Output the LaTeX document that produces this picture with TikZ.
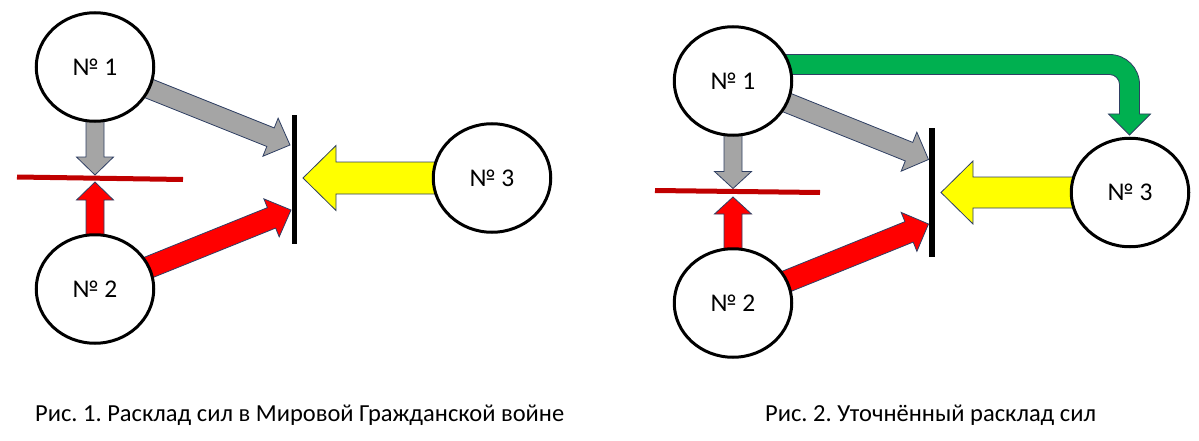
\documentclass[tikz,border=0pt]{standalone}
\usepackage{fontspec}
\setmainfont{Carlito}
\frenchspacing
\usetikzlibrary{calc,shapes.geometric,backgrounds}

\definecolor{edgeblue}{HTML}{2F3F63}
\definecolor{forcegray}{HTML}{A5A5A5}
\definecolor{forcered}{HTML}{FF0000}
\definecolor{forceyellow}{HTML}{FFFF00}
\definecolor{forcegreen}{HTML}{00B050}
\definecolor{linered}{HTML}{C00000}

\tikzset{
  side/.style={ellipse, draw, line width=3pt, fill=white, inner sep=0pt,
    minimum width=117.5pt, minimum height=108.5pt, font=\fontsize{25.5}{29}\selectfont},
  wall/.style={rectangle, fill=black, inner sep=0pt, minimum width=5.5pt, minimum height=129pt},
  barrier/.style={linered, line width=5pt},
  caption/.style={anchor=base west, inner sep=0pt, font=\fontsize{24.5}{29}\selectfont},
  grayarrow/.style={draw=edgeblue, line width=0.8pt, fill=forcegray, line join=miter},
  redarrow/.style={draw=edgeblue, line width=0.8pt, fill=forcered, line join=miter},
  yellowarrow/.style={draw=edgeblue, line width=0.8pt, fill=forceyellow, line join=miter},
  greenarrow/.style={draw=edgeblue, line width=0.8pt, fill=forcegreen, line join=miter}
}

% #1 style, #2 from, #3 tip, #4 half shaft, #5 half head, #6 head length
\newcommand{\forcearrow}[6]{%
  \path ($(#3)!#6!(#2)$) coordinate (hb);
  \draw[#1] ($(#2)!#4!90:(#3)$) -- ($(hb)!#4!90:(#3)$) -- ($(hb)!#5!90:(#3)$) -- (#3)
    -- ($(hb)!#5!-90:(#3)$) -- ($(hb)!#4!-90:(#3)$) -- ($(#2)!#4!-90:(#3)$) -- cycle;
}

\begin{document}
\begin{tikzpicture}[x=1pt,y=-1pt]
\useasboundingbox (0,0) rectangle (1199,441);

% Рис. 1
\node[side] (a1) at (95,67) {№ 1};
\node[side] (a2) at (95,289) {№ 2};
\node[side] (a3) at (492,178) {№ 3};
\node[wall] (aw) at (294.5,179.5) {};

\coordinate (al) at (17,177);
\coordinate (ar) at (183,179.5);
\coordinate (adown) at (95,175);
\coordinate (aup) at (95,182);
\coordinate (at1) at (290,145);
\coordinate (at2) at (291,210);
\coordinate (at3) at (303,178);

% Рис. 2
\node[side] (b1) at (733,81) {№ 1};
\node[side] (b2) at (733,303) {№ 2};
\node[side] (b3) at (1130,192.5) {№ 3};
\node[wall, minimum height=128.4pt] (bw) at (932,192.5) {};

\coordinate (bl) at (655,190.5);
\coordinate (br) at (820,192.5);
\coordinate (bdown) at (733,188.5);
\coordinate (bup) at (733,197);
\coordinate (bt1) at (928.5,159.5);
\coordinate (bt2) at (928.5,224);
\coordinate (bt3) at (941,192.5);

\begin{scope}[on background layer]
\forcearrow{grayarrow}{a1.center}{adown}{9pt}{18.5pt}{18pt}
\forcearrow{redarrow}{a2.center}{aup}{9pt}{18.5pt}{18pt}
\forcearrow{grayarrow}{a1.center}{at1}{10pt}{20.5pt}{21pt}
\forcearrow{redarrow}{a2.center}{at2}{11pt}{20.5pt}{21pt}
\forcearrow{yellowarrow}{a3.center}{at3}{16pt}{32.5pt}{33pt}

\forcearrow{grayarrow}{b1.center}{bdown}{9pt}{18.5pt}{17pt}
\forcearrow{redarrow}{b2.center}{bup}{9pt}{18.5pt}{17pt}
\forcearrow{grayarrow}{b1.center}{bt1}{10pt}{21pt}{21pt}
\forcearrow{redarrow}{b2.center}{bt2}{11pt}{21pt}{21pt}
\forcearrow{yellowarrow}{b3.center}{bt3}{15.5pt}{31.5pt}{32pt}

\draw[greenarrow] ($(b1.center)+(0,-26.5)$) -- ++(376.5,0)
  .. controls +(16.57,0) and +(0,-16.57) .. ++(30,30) -- ++(0,29.5) -- ++(11,0)
  -- ++(-21,21) -- ++(-21,-21) -- ++(11,0) -- ++(0,-29.5)
  .. controls +(0,-5.52) and +(5.52,0) .. ++(-10,-10) -- ++(-376.5,0) -- cycle;
\end{scope}

\draw[barrier] (al) -- (ar);
\draw[barrier] (bl) -- (br);

\node[caption] (cap1) at (35,421.5) {Рис. 1. Расклад сил в Мировой Гражданской войне};
\node[caption] (cap2) at (765,421.5) {Рис. 2. Уточнённый расклад сил};
\end{tikzpicture}
\end{document}
